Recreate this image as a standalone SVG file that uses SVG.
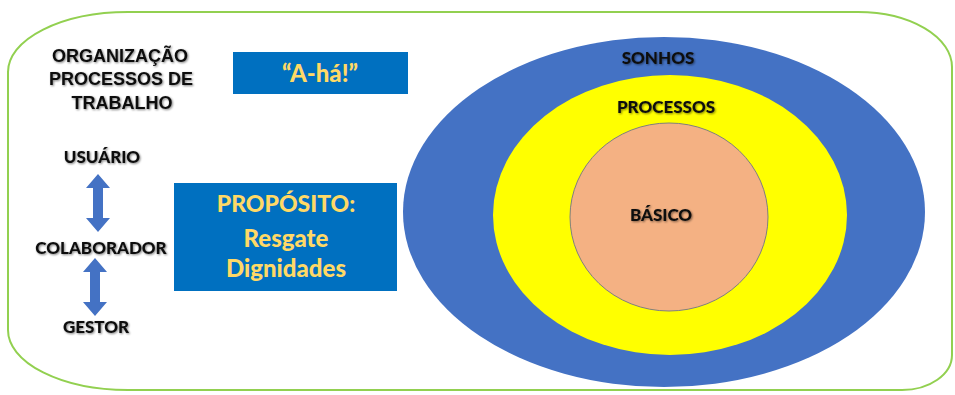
<svg xmlns="http://www.w3.org/2000/svg" width="955" height="395" viewBox="0 0 955 395">
<style>
.blk{font-family:Lato,"Liberation Sans",sans-serif;font-weight:900;fill:#111;text-anchor:middle;}
.ar{font-family:"Liberation Sans",Arial,sans-serif;font-weight:bold;fill:#111;text-anchor:middle;}
.yl{font-family:Lato,"Liberation Sans",sans-serif;font-weight:900;fill:#FFD966;text-anchor:middle;}
.box{fill:#0070C0;}
.arrow{fill:#4472C4;}
</style>
<defs>
<filter id="sh" x="-10%" y="-30%" width="120%" height="160%">
<feGaussianBlur in="SourceAlpha" stdDeviation="1.2"/>
<feOffset dx="1" dy="1" result="b"/>
<feComponentTransfer><feFuncA type="linear" slope="0.5"/></feComponentTransfer>
<feMerge><feMergeNode/><feMergeNode in="SourceGraphic"/></feMerge>
</filter>
</defs>
<rect width="955" height="395" fill="#ffffff"/>
<g id="frame">
<path d="M128 12 L858 12 A94 55 0 0 1 952 67 L952 355 A50 35 0 0 1 902 390 L128 390 A120 60 0 0 1 8 330 L8 72 A120 60 0 0 1 128 12 Z" fill="none" stroke="#92D050" stroke-width="2"/>
</g>
<g id="organizacao" filter="url(#sh)">
<text class="ar" x="120" y="62" font-size="18">ORGANIZAÇÃO</text>
<text class="ar" x="121" y="85" font-size="18">PROCESSOS DE</text>
<text class="ar" x="122" y="109" font-size="18">TRABALHO</text>
</g>
<g id="aha">
<rect class="box" x="233" y="52" width="175" height="42"/>
<text class="yl" x="320" y="82" font-size="24">“A-há!”</text>
</g>
<g id="proposito">
<rect class="box" x="174" y="183" width="223" height="108"/>
<text class="yl" x="286" y="212" font-size="23">PROPÓSITO:</text>
<text class="yl" x="286" y="247" font-size="24">Resgate</text>
<text class="yl" x="286" y="277" font-size="24">Dignidades</text>
</g>
<g id="usuario" filter="url(#sh)"><text class="blk" x="102" y="163" font-size="17">USUÁRIO</text></g>
<g id="colaborador" filter="url(#sh)"><text class="blk" x="101" y="254" font-size="17">COLABORADOR</text></g>
<g id="gestor" filter="url(#sh)"><text class="blk" x="96" y="333" font-size="17">GESTOR</text></g>
<g id="connectors">
<path class="arrow" d="M98 174 L110 188 L103 188 L103 218 L110 218 L98 232 L86 218 L93 218 L93 188 L86 188 Z"/>
<path class="arrow" d="M95 258 L107 272 L100 272 L100 302 L107 302 L95 316 L83 302 L90 302 L90 272 L83 272 Z"/>
</g>
<g id="sonhos">
<ellipse cx="664" cy="212" rx="261" ry="175" fill="#4472C4"/>
<text class="blk" x="658" y="64" font-size="17" filter="url(#sh)">SONHOS</text>
</g>
<g id="processos">
<ellipse cx="670" cy="215" rx="177" ry="140" fill="#FFFF00"/>
<text class="blk" x="666" y="113" font-size="17" filter="url(#sh)">PROCESSOS</text>
</g>
<g id="basico">
<ellipse cx="669" cy="217" rx="99" ry="94" fill="#F4B183" stroke="#7f7f7f" stroke-width="1"/>
<text class="blk" x="661" y="221" font-size="17" filter="url(#sh)">BÁSICO</text>
</g>
</svg>
